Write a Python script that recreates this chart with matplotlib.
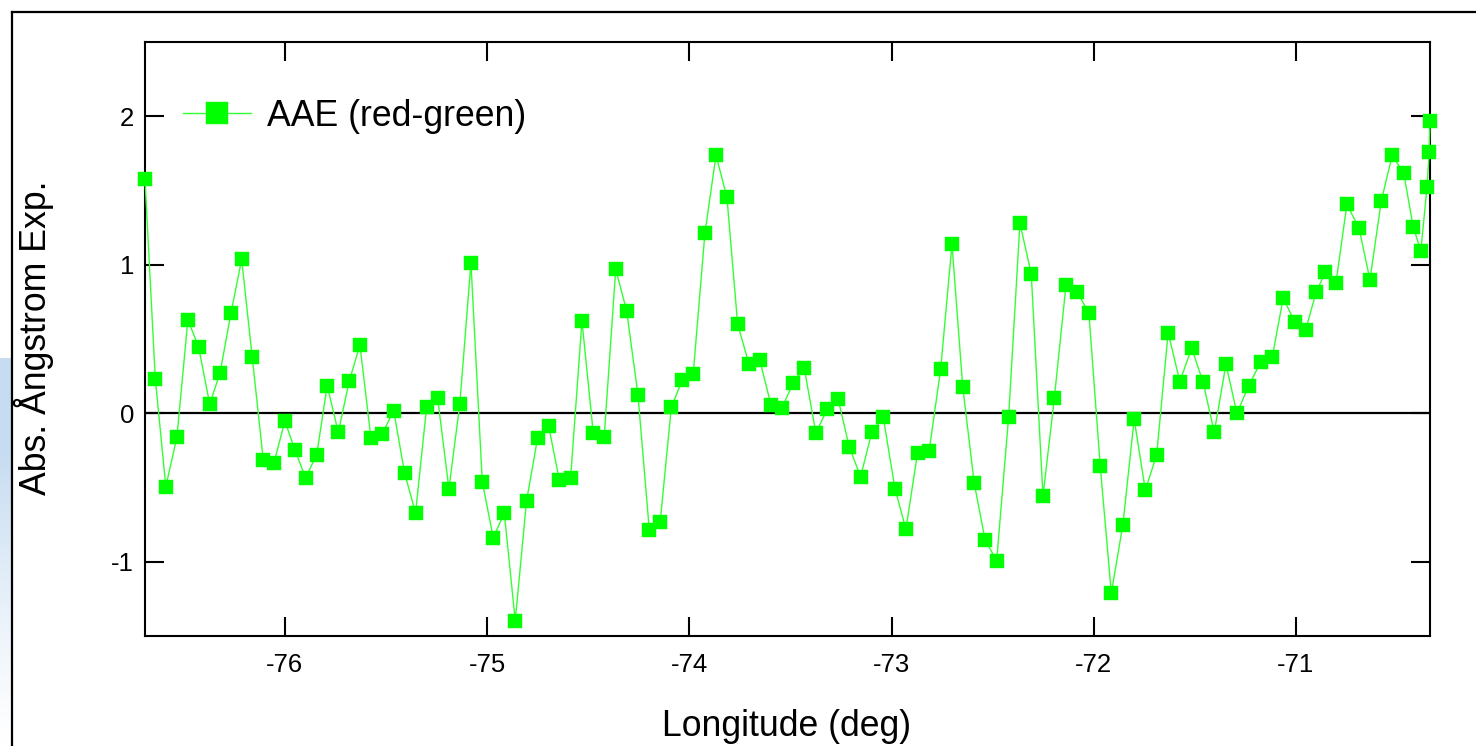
import numpy as np
import matplotlib
matplotlib.use("Agg")
import matplotlib.pyplot as plt
from matplotlib.lines import Line2D
from matplotlib.colors import to_rgb

plt.rcParams['font.family'] = ['Liberation Sans', 'DejaVu Sans']

# Longitude (deg)
lon = [-76.692, -76.641, -76.589, -76.534, -76.480, -76.427, -76.372, -76.321, -76.267, -76.214,
       -76.162, -76.107, -76.054, -76.000, -75.951, -75.898, -75.843, -75.791, -75.736, -75.682,
       -75.629, -75.575, -75.519, -75.462, -75.408, -75.354, -75.299, -75.245, -75.189, -75.135,
       -75.080, -75.024, -74.970, -74.915, -74.861, -74.805, -74.750, -74.696, -74.643, -74.587,
       -74.531, -74.475, -74.421, -74.364, -74.310, -74.254, -74.198, -74.144, -74.089, -74.035,
       -73.981, -73.923, -73.868, -73.814, -73.761, -73.705, -73.652, -73.596, -73.542, -73.485,
       -73.432, -73.374, -73.318, -73.264, -73.209, -73.153, -73.097, -73.041, -72.983, -72.929,
       -72.871, -72.814, -72.757, -72.701, -72.648, -72.591, -72.537, -72.480, -72.421, -72.365,
       -72.309, -72.251, -72.195, -72.137, -72.082, -72.024, -71.968, -71.913, -71.856, -71.800,
       -71.745, -71.689, -71.632, -71.574, -71.516, -71.460, -71.404, -71.346, -71.292, -71.234,
       -71.175, -71.117, -71.063, -71.005, -70.952, -70.900, -70.855, -70.802, -70.748, -70.688,
       -70.634, -70.578, -70.524, -70.467, -70.420, -70.382, -70.352, -70.341, -70.337]

# Absorption Angstrom exponent (red-green)
aae = [1.575, 0.231, -0.494, -0.159, 0.628, 0.448, 0.061, 0.271, 0.673, 1.036,
       0.381, -0.314, -0.332, -0.052, -0.247, -0.433, -0.281, 0.186, -0.128, 0.217,
       0.460, -0.164, -0.137, 0.017, -0.404, -0.671, 0.044, 0.105, -0.509, 0.063,
       1.013, -0.460, -0.837, -0.673, -1.396, -0.590, -0.164, -0.085, -0.449, -0.433,
       0.621, -0.135, -0.157, 0.969, 0.690, 0.123, -0.785, -0.729, 0.040, 0.224,
       0.262, 1.211, 1.738, 1.454, 0.599, 0.332, 0.359, 0.056, 0.038, 0.206,
       0.305, -0.133, 0.027, 0.094, -0.227, -0.427, -0.126, -0.027, -0.507, -0.781,
       -0.265, -0.254, 0.298, 1.139, 0.179, -0.471, -0.855, -0.992, -0.027, 1.279,
       0.939, -0.559, 0.101, 0.865, 0.816, 0.675, -0.353, -1.211, -0.752, -0.040,
       -0.516, -0.283, 0.542, 0.213, 0.439, 0.213, -0.128, 0.330, 0.000, 0.184,
       0.343, 0.379, 0.776, 0.612, 0.563, 0.814, 0.951, 0.877, 1.406, 1.247,
       0.899, 1.429, 1.736, 1.617, 1.254, 1.094, 1.521, 1.756, 1.967]

series_label = "AAE (red-green)"
x_label = "Longitude (deg)"
y_label = "Abs. Ångstrom Exp."
x_ticks = [-76, -75, -74, -73, -72, -71]
y_ticks = [-1, 0, 1, 2]

W, H = 1476, 746
fig = plt.figure(figsize=(W / 100, H / 100), dpi=100)
fig.patch.set_facecolor('white')

# left pale-blue gradient strip
gax = fig.add_axes([0, 0, 11 / W, 0.52])
gax.set_axis_off()
grad = np.linspace(0, 1, 256)[:, None]
rgba = np.zeros((256, 1, 4))
rgba[..., :3] = to_rgb('#c6dcf1')
rgba[..., 3] = np.clip(grad[::-1] * 1.3, 0, 1) ** 1.2
gax.imshow(rgba, aspect='auto', extent=[0, 1, 0, 1])

# outer frame (left and top edges visible)
fig.add_artist(Line2D([12 / W, 12 / W], [0, 1 - 12 / H], transform=fig.transFigure,
                      color='black', lw=1.6))
fig.add_artist(Line2D([12 / W, 1], [1 - 12 / H, 1 - 12 / H], transform=fig.transFigure,
                      color='black', lw=1.6))

ax = fig.add_axes([145 / W, (H - 636) / H, (1430 - 145) / W, (636 - 42) / H])
ax.axhline(0, color='black', lw=1.6, zorder=2)
ax.plot(lon, aae, color='#33ff33', lw=1.0, marker='s', markersize=10.5,
        markerfacecolor='#00ff00', markeredgecolor='#00ff00', markeredgewidth=0.3,
        clip_on=False, zorder=5, label=series_label)

ax.set_xlim(min(lon), max(lon))
ax.set_ylim(-1.5, 2.5)
ax.set_xticks(x_ticks)
ax.set_xticklabels([str(t) for t in x_ticks])
ax.set_yticks(y_ticks)
ax.set_yticklabels([str(t) for t in y_ticks])
for s in ax.spines.values():
    s.set_linewidth(1.5)
ax.tick_params(axis='both', direction='in', length=14, width=1.5, labelsize=18.5,
               top=True, right=True, colors='black')
ax.tick_params(axis='x', pad=12)
ax.tick_params(axis='y', pad=8)

leg = ax.legend(loc='center left', bbox_to_anchor=(183 / W, 1 - 116 / H),
                bbox_transform=fig.transFigure, frameon=False, fontsize=25.7,
                handlelength=1.9, handletextpad=0.45, borderpad=0, borderaxespad=0,
                markerscale=1.5)

fig.text(787 / W, 9.5 / H, x_label, fontsize=25.7, ha='center', va='baseline')
fig.text(46.5 / W, 1 - 338 / H, y_label, fontsize=25.7, ha='center', va='baseline',
         rotation=90, rotation_mode='anchor')

fig.savefig('out.png', dpi=100)
